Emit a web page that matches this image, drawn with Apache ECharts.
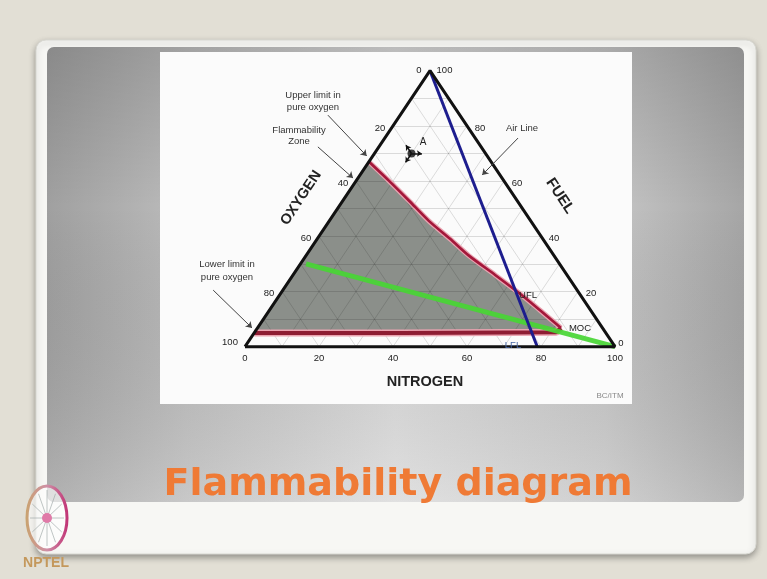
<!DOCTYPE html>
<html><head><meta charset="utf-8">
<script src="https://cdn.jsdelivr.net/npm/echarts@6/dist/echarts.min.js"></script>
<style>html,body{margin:0;padding:0;background:#e2dfd5}#c{width:767px;height:579px}</style>
</head><body><div id="c"></div>
<script>
// ---- data (ternary: fuel %, nitrogen %, oxygen = 100 - fuel - nitrogen) ----
const nitrogenTicks = [0, 20, 40, 60, 80, 100];
const oxygenTicks = [100, 80, 60, 40, 20, 0];
const fuelTicks = [0, 20, 40, 60, 80, 100];
const upperLimitFuel = [67, 60, 52.8, 45.5, 39, 33, 26, 19, 13.3, 6.8];
const upperLimitNitrogen = [0, 9, 18, 27, 36, 44, 54.6, 65, 73, 82];
const lowerLimitFuel = [6.8, 5.2, 5, 5];
const lowerLimitNitrogen = [82, 81.5, 40, 0];
const airLineFuel = [100, 0];
const airLineNitrogen = [0, 79];
const stoichFuel = [30, 0];
const stoichNitrogen = [1.5, 100];
const pointAFuel = 70;
const pointANitrogen = 10;

// ---- layout ----
const L = 245, R = 615, T = 70.7, B = 346.7, W = 767, H = 579;
const sx = (R - L) / 100, sy = (B - T) / 100;
function tern(f, n) { return [n + f / 2, f]; }
function pts(fs, ns) { return fs.map((f, i) => tern(f, ns[i])); }

const gridSegs = [];
for (let k = 10; k < 100; k += 10) {
  gridSegs.push({coords: [tern(k, 0), tern(k, 100 - k)]});
  gridSegs.push({coords: [tern(0, k), tern(100 - k, k)]});
  gridSegs.push({coords: [tern(0, 100 - k), tern(100 - k, 0)]});
}
const upperPts = pts(upperLimitFuel, upperLimitNitrogen);
const lowerPts = pts(lowerLimitFuel, lowerLimitNitrogen);
const fillPts = upperPts.concat(lowerPts);
const A = tern(pointAFuel, pointANitrogen);

const font = '"Liberation Sans", Arial, sans-serif';
function tickSeries(points, labels, offsetFn) {
  return {
    type: 'custom', z: 12, silent: true, animation: false,
    data: points.map((p, i) => [p[0], p[1], i]),
    renderItem: function (params, api) {
      const i = params.dataIndex;
      const c = api.coord([api.value(0), api.value(1)]);
      const o = offsetFn(labels[i]);
      return {type: 'text', x: c[0] + o[0], y: c[1] + o[1],
        style: {text: String(labels[i]), fill: '#222', font: '9.5px ' + font, align: 'center', verticalAlign: 'middle'}};
    }
  };
}
function line(data, color, width, z, extra) {
  return Object.assign({type: 'line', data: data, showSymbol: false, symbol: 'none',
    lineStyle: {color: color, width: width}, z: z, silent: true, animation: false}, extra || {});
}

// logo spokes
const spokes = [];
for (let i = 0; i < 12; i++) {
  const a = i * Math.PI / 6;
  spokes.push({type: 'line', z: 20, shape: {x1: 47, y1: 518, x2: 47 + 17 * Math.cos(a), y2: 518 + 28 * Math.sin(a)},
    style: {stroke: 'rgba(150,160,160,0.6)', lineWidth: 1}});
}

const chart = echarts.init(document.getElementById('c'), null, {renderer: 'canvas'});
chart.setOption({
  backgroundColor: '#e2dfd5',
  animation: false,
  grid: {left: 0, right: 0, top: 0, bottom: 0, containLabel: false},
  xAxis: {type: 'value', min: -L / sx, max: (W - L) / sx, show: false},
  yAxis: {type: 'value', min: (B - H) / sy, max: B / sy, show: false},
  graphic: [
    {type: 'rect', z: -10, shape: {x: 36, y: 40, width: 720, height: 514, r: 10},
      style: {fill: '#f7f7f4', stroke: '#d8d8d2', lineWidth: 1, shadowBlur: 6, shadowColor: 'rgba(0,0,0,0.35)', shadowOffsetY: 3}},
    {type: 'rect', z: -9, shape: {x: 47, y: 47, width: 697, height: 455, r: 7},
      style: {fill: {type: 'linear', x: 0, y: 0, x2: 1, y2: 0, colorStops: [
        {offset: 0, color: '#a0a0a0'}, {offset: 0.2, color: '#bcbcbc'}, {offset: 0.5, color: '#dadada'},
        {offset: 0.8, color: '#c6c6c6'}, {offset: 1, color: '#a6a6a6'}]}}},
    {type: 'rect', z: -9, shape: {x: 47, y: 47, width: 697, height: 455, r: 7},
      style: {fill: {type: 'linear', x: 0, y: 0, x2: 0, y2: 1, colorStops: [
        {offset: 0, color: 'rgba(0,0,0,0.14)'}, {offset: 0.35, color: 'rgba(0,0,0,0)'},
        {offset: 1, color: 'rgba(255,255,255,0.18)'}]}}},
    {type: 'rect', z: -8, shape: {x: 160, y: 52, width: 472, height: 352}, style: {fill: '#fbfbfb'}},
    {type: 'text', z: 20, x: 398, y: 485, style: {text: 'Flammability diagram', font: 'bold 38px "DejaVu Sans", Verdana, sans-serif',
      fill: '#ef7a35', align: 'center', verticalAlign: 'middle', shadowBlur: 3, shadowColor: 'rgba(0,0,0,0.35)', shadowOffsetX: 1, shadowOffsetY: 2}},
    {type: 'text', z: 20, x: 610, y: 396, style: {text: 'BC/ITM', font: '8px ' + font, fill: '#888', align: 'center', verticalAlign: 'middle'}},
    // logo
    {type: 'ellipse', z: 19, shape: {cx: 47, cy: 518, rx: 20, ry: 32}, style: {fill: 'rgba(255,255,255,0.6)'}}
  ].concat(spokes).concat([
    {type: 'ellipse', z: 21, shape: {cx: 47, cy: 518, rx: 20, ry: 32},
      style: {fill: 'none', lineWidth: 3, stroke: {type: 'linear', x: 0, y: 0, x2: 1, y2: 0, colorStops: [
        {offset: 0, color: '#c9a46c'}, {offset: 0.5, color: '#cf8fa6'}, {offset: 1, color: '#c02d72'}]}}},
    {type: 'circle', z: 21, shape: {cx: 47, cy: 518, r: 5}, style: {fill: '#e07aa8'}},
    {type: 'text', z: 21, x: 46, y: 563, style: {text: 'NPTEL', font: 'bold 14px ' + font, fill: '#c4985c', align: 'center', verticalAlign: 'middle'}},
    // annotation texts
    {type: 'text', z: 20, x: 313, y: 101, style: {text: 'Upper limit in\npure oxygen', font: '9.5px ' + font, lineHeight: 12, fill: '#333', align: 'center', verticalAlign: 'middle'}},
    {type: 'text', z: 20, x: 299, y: 136, style: {text: 'Flammability\nZone', font: '9.5px ' + font, lineHeight: 11, fill: '#333', align: 'center', verticalAlign: 'middle'}},
    {type: 'text', z: 20, x: 522, y: 128, style: {text: 'Air Line', font: '9.5px ' + font, fill: '#333', align: 'center', verticalAlign: 'middle'}},
    {type: 'text', z: 20, x: 227, y: 271, style: {text: 'Lower limit in\npure oxygen', font: '9.5px ' + font, lineHeight: 13, fill: '#333', align: 'center', verticalAlign: 'middle'}},
    {type: 'text', z: 20, x: 423, y: 142, style: {text: 'A', font: '10px ' + font, fill: '#222', align: 'center', verticalAlign: 'middle'}},
    {type: 'text', z: 20, x: 528, y: 295, style: {text: 'UFL', font: '9.5px ' + font, fill: '#222', align: 'center', verticalAlign: 'middle'}},
    {type: 'text', z: 20, x: 580, y: 328, style: {text: 'MOC', font: '9.5px ' + font, fill: '#222', align: 'center', verticalAlign: 'middle'}},
    {type: 'text', z: 20, x: 513, y: 345, style: {text: 'LFL', font: '9.5px ' + font, fill: '#4a68a6', align: 'center', verticalAlign: 'middle'}},
    {type: 'text', z: 20, x: 301, y: 198, rotation: 0.983, style: {text: 'OXYGEN', font: 'bold 14.5px ' + font, fill: '#222', align: 'center', verticalAlign: 'middle'}},
    {type: 'text', z: 20, x: 560, y: 196, rotation: -0.983, style: {text: 'FUEL', font: 'bold 15px ' + font, fill: '#222', align: 'center', verticalAlign: 'middle'}},
    {type: 'text', z: 20, x: 425, y: 382, style: {text: 'NITROGEN', font: 'bold 14.5px ' + font, fill: '#222', align: 'center', verticalAlign: 'middle'}}
  ]),
  series: [
    {type: 'custom', z: 2, silent: true, animation: false, data: [[0, 0]],
      renderItem: function (params, api) {
        return {type: 'polygon', shape: {points: fillPts.map(p => api.coord(p))}, style: {fill: '#8b8f8a'}};
      }},
    {type: 'lines', coordinateSystem: 'cartesian2d', z: 3, silent: true, animation: false,
      data: gridSegs, lineStyle: {color: 'rgba(0,0,0,0.13)', width: 1, opacity: 1}},
    line(lowerPts, '#eaa3b0', 7, 4),
    line(lowerPts, '#8e1d33', 4, 5),
    line(upperPts, '#e9a3b0', 5, 4, {smooth: 0.25}),
    line(upperPts, '#a3173a', 2.6, 5, {smooth: 0.25}),
    line(pts(stoichFuel, stoichNitrogen), 'rgba(72,214,52,0.92)', 5, 6),
    line(pts(airLineFuel, airLineNitrogen), '#1d1d8e', 3, 7),
    line([tern(0, 0), tern(0, 100), tern(100, 0), tern(0, 0)], '#111', 3, 8),
    {type: 'lines', coordinateSystem: 'cartesian2d', z: 9, silent: true, animation: false,
      symbol: ['none', 'arrow'], symbolSize: 6,
      lineStyle: {color: '#444', width: 1, opacity: 1},
      data: [
        {coords: [[22.4, 83.9], [32.9, 69.1]]},
        {coords: [[19.7, 72.4], [29.2, 61.1]]},
        {coords: [[73.8, 75.6], [64.1, 62.2]]},
        {coords: [[-8.6, 20.5], [1.9, 6.8]]}
      ]},
    {type: 'lines', coordinateSystem: 'cartesian2d', z: 9, silent: true, animation: false,
      symbol: ['none', 'arrow'], symbolSize: 5,
      lineStyle: {color: '#111', width: 1.5, opacity: 1},
      data: [
        {coords: [A, [A[0] - 1.5, A[1] + 3]]},
        {coords: [A, [A[0] - 1.6, A[1] - 3.2]]},
        {coords: [A, [A[0] + 2.8, A[1]]]}
      ]},
    {type: 'scatter', z: 10, silent: true, animation: false, data: [A], symbolSize: 8, itemStyle: {color: '#111'}},
    tickSeries(nitrogenTicks.map(n => tern(0, n)), nitrogenTicks, v => [0, 12]),
    tickSeries(oxygenTicks.map(o => tern(100 - o, 0)), oxygenTicks, v => v === 100 ? [-15, -4] : (v === 0 ? [-11, 0] : [-13, 2])),
    tickSeries(fuelTicks.map(f => tern(f, 100 - f)), fuelTicks, v => v === 0 ? [6, -3] : (v === 100 ? [14.5, 0] : [13, 2]))
  ]
});
</script></body></html>
